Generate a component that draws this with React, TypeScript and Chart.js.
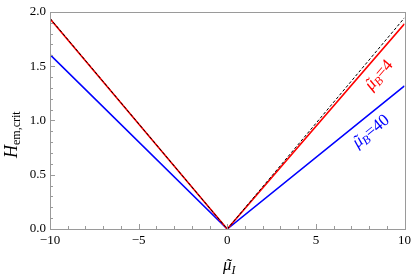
import React, { useEffect, useRef } from "react";
import { Chart, registerables } from "chart.js";

Chart.register(...registerables);

// Data
const xValues = [-10, 0, 10];
const redValues = [1.935, 0, 1.89]; // mu_B = 4
const blueValues = [1.606, 0, 1.318]; // mu_B = 40
const dashedValues = [1.94, 0, 1.945]; // limiting curve
const xTickValues = [-10, -5, 0, 5, 10];
const yTickValues = [0, 0.5, 1.0, 1.5, 2.0];

const SERIF = "'Liberation Serif', 'DejaVu Serif', serif";
const RED = "rgb(255,0,0)";
const BLUE = "rgb(0,0,255)";

type Part = { text: string; font: string; dy: number; tilde?: boolean };

function drawParts(ctx: CanvasRenderingContext2D, parts: Part[], color: string, align: "center" | "left") {
  let total = 0;
  const widths = parts.map((p) => {
    ctx.font = p.font;
    const w = ctx.measureText(p.text).width;
    total += w;
    return w;
  });
  let x = align === "center" ? -total / 2 : 0;
  ctx.fillStyle = color;
  ctx.textAlign = "left";
  ctx.textBaseline = "alphabetic";
  parts.forEach((p, i) => {
    ctx.font = p.font;
    ctx.fillText(p.text, x, p.dy);
    if (p.tilde) {
      ctx.textAlign = "center";
      ctx.fillText("\u02DC", x + widths[i] / 2 + 1, p.dy);
      ctx.textAlign = "left";
    }
    x += widths[i];
  });
}

const decorPlugin = {
  id: "decor",
  afterDraw(chart: any) {
    const ctx: CanvasRenderingContext2D = chart.ctx;
    const { left, right, top, bottom } = chart.chartArea;
    const xs = chart.scales.x;
    const ys = chart.scales.y;
    ctx.save();
    // frame
    ctx.strokeStyle = "#9a9a9a";
    ctx.lineWidth = 1;
    ctx.strokeRect(Math.round(left) + 0.5, Math.round(top) + 0.5, Math.round(right - left), Math.round(bottom - top));
    // ticks (inward)
    ctx.beginPath();
    for (let v = -10; v <= 10; v++) {
      const px = Math.round(xs.getPixelForValue(v)) + 0.5;
      const len = v % 5 === 0 ? 5 : 3;
      ctx.moveTo(px, bottom);
      ctx.lineTo(px, bottom - len);
    }
    for (let i = 0; i <= 20; i++) {
      const py = Math.round(ys.getPixelForValue(i / 10)) + 0.5;
      const len = i % 5 === 0 ? 5 : 3;
      ctx.moveTo(left, py);
      ctx.lineTo(left + len, py);
    }
    ctx.stroke();

    // y axis title: H_{em,crit}
    ctx.save();
    ctx.translate(17, 158);
    ctx.rotate(-Math.PI / 2);
    drawParts(
      ctx,
      [
        { text: "H", font: `italic 18px ${SERIF}`, dy: 0 },
        { text: "em,crit", font: `12px ${SERIF}`, dy: 3 },
      ],
      "#000",
      "left"
    );
    ctx.restore();

    // x axis title: mu~_I
    ctx.save();
    ctx.translate((left + right) / 2 + 2, 270);
    drawParts(
      ctx,
      [
        { text: "\u03BC", font: `italic 17px ${SERIF}`, dy: 0, tilde: true },
        { text: "I", font: `italic 12px ${SERIF}`, dy: 4 },
      ],
      "#000",
      "center"
    );
    ctx.restore();

    // curve labels
    const curveLabel = (vals: number[], xd: number, off: number, color: string, num: string, size: number) => {
      const x0 = xs.getPixelForValue(xValues[1]);
      const y0 = ys.getPixelForValue(vals[1]);
      const x1 = xs.getPixelForValue(xValues[2]);
      const y1 = ys.getPixelForValue(vals[2]);
      const ang = Math.atan2(y1 - y0, x1 - x0);
      const t = (xd - xValues[1]) / (xValues[2] - xValues[1]);
      const fx = x0 + t * (x1 - x0);
      const fy = y0 + t * (y1 - y0);
      ctx.save();
      ctx.translate(fx, fy);
      ctx.rotate(ang);
      ctx.translate(0, off);
      drawParts(
        ctx,
        [
          { text: "\u03BC", font: `italic ${size}px ${SERIF}`, dy: 4, tilde: true },
          { text: "B", font: `italic ${size - 5}px ${SERIF}`, dy: 7 },
          { text: "=" + num, font: `${size}px ${SERIF}`, dy: 4 },
        ],
        color,
        "center"
      );
      ctx.restore();
    };
    curveLabel(redValues, 7.95, 15, RED, "4", 17);
    curveLabel(blueValues, 7.6, 15, BLUE, "40", 17);
    ctx.restore();
  },
};

export default function App() {
  const ref = useRef<HTMLCanvasElement | null>(null);
  useEffect(() => {
    if (!ref.current) return;
    const mk = (vals: number[]) => xValues.map((x, i) => ({ x, y: vals[i] }));
    const chart = new Chart(ref.current, {
      type: "line",
      data: {
        datasets: [
          {
            data: mk(dashedValues),
            borderColor: "#000",
            borderWidth: 1,
            borderDash: [3, 2],
            pointRadius: 0,
            order: 0,
          },
          {
            data: mk(redValues),
            borderColor: RED,
            borderWidth: 1.6,
            pointRadius: 0,
            order: 1,
          },
          {
            data: mk(blueValues),
            borderColor: BLUE,
            borderWidth: 1.6,
            pointRadius: 0,
            order: 2,
          },
        ],
      },
      options: {
        responsive: false,
        animation: false,
        layout: { padding: { top: 7, right: 7, left: 0, bottom: 0 } },
        plugins: { legend: { display: false }, tooltip: { enabled: false } },
        scales: {
          x: {
            type: "linear",
            min: -10,
            max: 10,
            afterBuildTicks: (s: any) => {
              s.ticks = xTickValues.map((v) => ({ value: v }));
            },
            ticks: {
              font: { family: SERIF, size: 13 },
              color: "#000",
              padding: 4,
              maxRotation: 0,
              autoSkip: false,
              callback: (v: any) => (v < 0 ? "\u2212" + Math.abs(v) : String(v)),
            },
            grid: { display: false, drawTicks: false },
            border: { display: false },
            afterFit: (s: any) => {
              s.height = 49;
            },
          },
          y: {
            type: "linear",
            min: 0,
            max: 2,
            afterBuildTicks: (s: any) => {
              s.ticks = yTickValues.map((v) => ({ value: v }));
            },
            ticks: {
              font: { family: SERIF, size: 13 },
              color: "#000",
              padding: 4,
              autoSkip: false,
              callback: (v: any) => Number(v).toFixed(1),
            },
            grid: { display: false, drawTicks: false },
            border: { display: false },
            afterFit: (s: any) => {
              s.width = 50;
            },
          },
        },
      } as any,
      plugins: [decorPlugin],
    });
    return () => chart.destroy();
  }, []);
  return (
    <div style={{ position: "absolute", left: 0, top: 0, width: 415, height: 278, background: "#fff" }}>
      <canvas ref={ref} width={415} height={278} />
    </div>
  );
}
